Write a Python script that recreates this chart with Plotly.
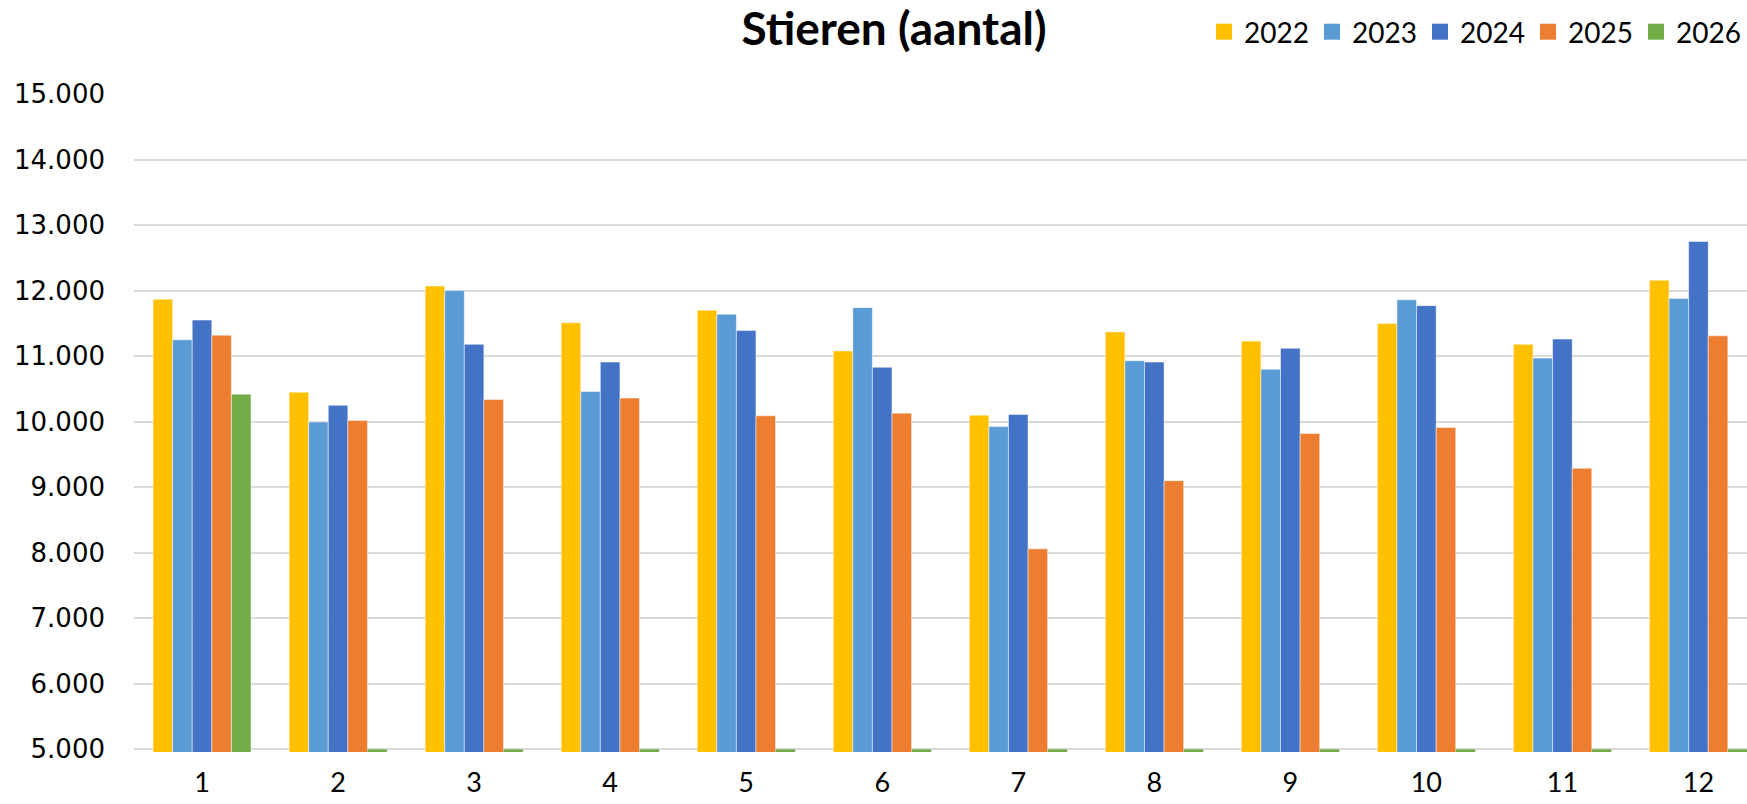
import plotly.graph_objects as go

# ---------------- data ----------------
MONTHS = ["1", "2", "3", "4", "5", "6", "7", "8", "9", "10", "11", "12"]
YEARS = ["2022", "2023", "2024", "2025", "2026"]

V2022 = [11870, 10450, 12070, 11510, 11700, 11080, 10100, 11370, 11230, 11500, 11180, 12160]
V2023 = [11250, 9995, 12000, 10460, 11640, 11740, 9925, 10930, 10800, 11860, 10970, 11880]
V2024 = [11550, 10250, 11180, 10910, 11390, 10830, 10110, 10910, 11120, 11770, 11260, 12750]
V2025 = [11320, 10020, 10340, 10360, 10090, 10130, 8060, 9100, 9820, 9910, 9290, 11310]
V2026 = [10420, 0, 0, 0, 0, 0, 0, 0, 0, 0, 0, 0]

Y_TICK_VALUES = [5000, 6000, 7000, 8000, 9000, 10000, 11000, 12000, 13000, 14000, 15000]
Y_TICK_LABELS = ["5.000", "6.000", "7.000", "8.000", "9.000", "10.000",
                 "11.000", "12.000", "13.000", "14.000", "15.000"]

TITLE = "Stieren (aantal)"

# ---------------- style ----------------
COLORS = ["#FFC000", "#5B9BD5", "#4472C4", "#ED7D31", "#70AD47"]
Y_MIN, Y_MAX = 5000, 15000
STUB = 40  # visual height of the clipped stub Excel draws for zero-valued bars below the axis
GRID = "#D9D9D9"

series = [V2022, V2023, V2024, V2025, V2026]

fig = go.Figure()
for year, vals, col in zip(YEARS, series, COLORS):
    fig.add_trace(go.Bar(
        x=MONTHS, y=vals, name=year, offsetgroup=year,
        marker=dict(color=col, line=dict(color="rgba(255,255,255,0.6)", width=0.8)),
        showlegend=False,
    ))

# stub marks for zero values (drawn just below the axis, like Excel's clipped bars)
stub_y = [STUB if v == 0 else None for v in V2026]
fig.add_trace(go.Bar(
    x=MONTHS, y=stub_y, base=[Y_MIN - STUB] * len(MONTHS),
    offsetgroup="2026", marker=dict(color=COLORS[4], line=dict(width=0)),
    showlegend=False, hoverinfo="skip",
))

# legend entries (square markers)
for year, col in zip(YEARS, COLORS):
    fig.add_trace(go.Scatter(
        x=[None], y=[None], mode="markers", name=year,
        marker=dict(symbol="square", size=18, color=col),
        showlegend=True,
    ))

fig.update_layout(
    width=1747, height=804,
    margin=dict(l=134, r=0, t=94, b=52, autoexpand=False),
    paper_bgcolor="white", plot_bgcolor="white",
    barmode="group", bargap=0.28, bargroupgap=0,
    title=dict(text="<b>" + TITLE + "</b>", xref="container", yref="container",
               x=894 / 1747, y=1 - 29 / 804, xanchor="center", yanchor="middle",
               font=dict(family="Lato", size=46, color="black")),
    legend=dict(orientation="h", xref="container", yref="container",
                x=1204 / 1747, y=1 - 32 / 804, xanchor="left", yanchor="middle",
                font=dict(family="Lato", size=28, color="black"),
                entrywidth=63, entrywidthmode="pixels",
                bgcolor="rgba(0,0,0,0)", borderwidth=0, tracegroupgap=0),
    showlegend=True,
)

fig.update_xaxes(
    type="category", range=[-0.5, 11.357],
    showgrid=False, showline=False,
    ticks="", ticklabelstandoff=12,
    tickfont=dict(family="Lato", size=27, color="black"),
)
fig.update_yaxes(
    range=[Y_MIN - STUB, Y_MAX], tickvals=Y_TICK_VALUES, ticktext=Y_TICK_LABELS,
    showgrid=True, gridcolor=GRID, gridwidth=1.5, zeroline=False,
    showline=False, ticks="", ticklabelstandoff=28,
    tickfont=dict(family="DejaVu Sans", size=26, color="black"),
)

fig.write_html(
    "out.html",
    config={"displayModeBar": False},
    post_script="document.body.style.margin='0px';document.body.style.overflow='hidden';",
)
